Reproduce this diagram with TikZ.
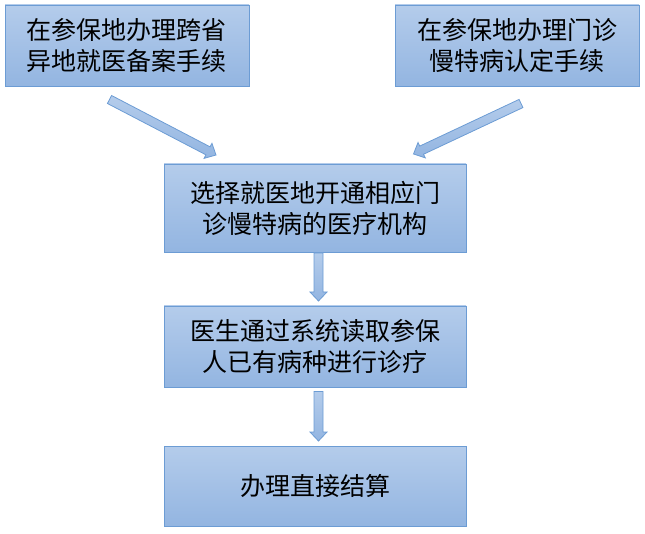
\documentclass[tikz,border=0pt]{standalone}
\usepackage{fontspec}
\newfontfamily\cjk{Noto Sans CJK SC}
\usetikzlibrary{calc,positioning}
\definecolor{boxtop}{HTML}{B4CCEB}
\definecolor{boxbot}{HTML}{93B5E1}
\definecolor{boxline}{HTML}{6C9CD4}
\tikzset
{
    stepbox/.style  = {rectangle, draw=boxline, line width=0.8pt, top color=boxtop, bottom color=boxbot, align=center, font=\cjk\fontsize{25}{31}\selectfont, inner sep=0pt},
    fatarrow/.style = {draw=boxline, line width=0.8pt, top color=boxtop, bottom color=boxbot,
        to path={let \p1=($(\tikztotarget)-(\tikztostart)$), \n1={atan2(\y1,\x1)}, \n2={veclen(\x1,\y1)} in
            ($(\tikztostart)+(\n1+90:4.5)$) -- ($(\tikztostart)+(\n1:{\n2-9})+(\n1+90:4.5)$)
            -- ($(\tikztostart)+(\n1:{\n2-9})+(\n1+90:8.5)$) -- (\tikztotarget)
            -- ($(\tikztostart)+(\n1:{\n2-9})+(\n1-90:8.5)$) -- ($(\tikztostart)+(\n1:{\n2-9})+(\n1-90:4.5)$)
            -- ($(\tikztostart)+(\n1-90:4.5)$) -- cycle}}
}
\begin{document}
\begin{tikzpicture}[x=1pt,y=1pt]
\useasboundingbox (0,0) rectangle (645,-534);
\node [stepbox, minimum width=244, minimum height=81] at (127,-45.5) (a) {在参保地办理跨省\\异地就医备案手续};
\node [stepbox, minimum width=244, minimum height=81] at (517,-45.5) (b) {在参保地办理门诊\\慢特病认定手续};
\node [stepbox, minimum width=302, minimum height=88] at (315,-208) (c) {选择就医地开通相应门\\诊慢特病的医疗机构};
\node [stepbox, minimum width=302, minimum height=81] at (315,-346.5) (d) {医生通过系统读取参保\\人已有病种进行诊疗};
\node [stepbox, minimum width=302, minimum height=80] at (315,-486) (e) {办理直接结算};
\coordinate (as) at (109.5,-99.5);
\coordinate (ae) at (216,-155);
\coordinate (bs) at (521,-103.5);
\coordinate (be) at (413.5,-154);
\coordinate (cs) at (318.5,-253);
\coordinate (ce) at (318.5,-301);
\coordinate (ds) at (318.5,-391.5);
\coordinate (de) at (318.5,-441);
\draw [fatarrow] (as) to (ae);
\draw [fatarrow] (bs) to (be);
\draw [fatarrow] (cs) to (ce);
\draw [fatarrow] (ds) to (de);
\end{tikzpicture}
\end{document}
